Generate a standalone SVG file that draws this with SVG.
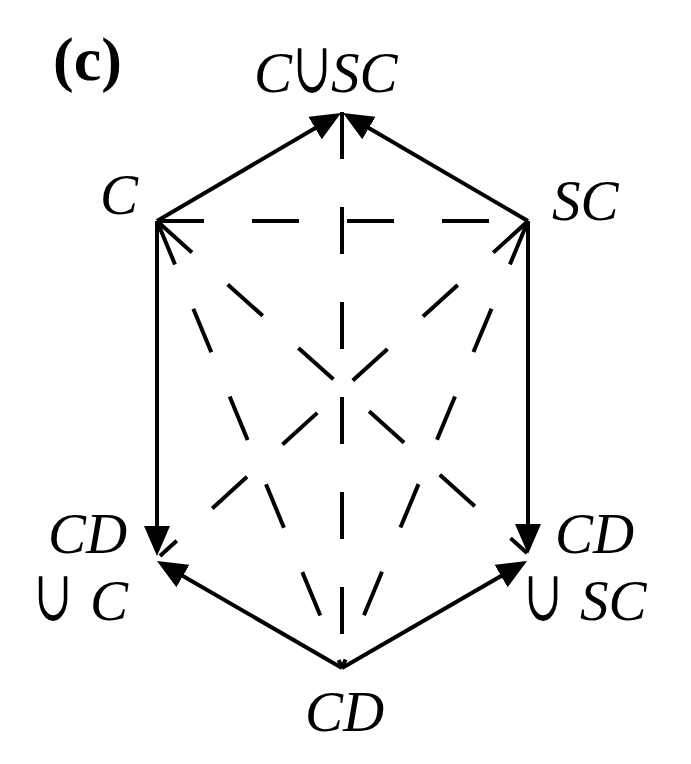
<svg xmlns="http://www.w3.org/2000/svg" width="691" height="764" viewBox="0 0 691 764">
<style>
.lbl{font-family:"Liberation Serif","Times New Roman",serif;font-style:italic;font-size:57px;fill:#000}
.cup{font-family:"DejaVu Serif","Liberation Serif",serif;font-style:normal;font-size:57px;fill:#000;text-anchor:middle}
.title{font-family:"Liberation Serif","Times New Roman",serif;font-weight:bold;font-size:62px;fill:#000}
.solid{stroke:#000;stroke-width:4;fill:none;marker-end:url(#ah)}
.dash{stroke:#000;stroke-width:4;fill:none;stroke-dasharray:47 48}
</style>
<defs>
<marker id="ah" viewBox="0 0 30 26" refX="22" refY="13" markerWidth="30" markerHeight="26" markerUnits="userSpaceOnUse" orient="auto">
<path d="M0,0 L30,13 L0,26 z" fill="#000"/>
</marker>
</defs>
<rect width="691" height="764" fill="#fff"/>
<text class="title" x="53" y="80">(c)</text>
<g id="connectors">
<line class="dash" x1="342" y1="112" x2="342" y2="668"/>
<line class="dash" x1="157" y1="221" x2="528" y2="221"/>
<line class="dash" x1="157" y1="221" x2="527" y2="553"/>
<line class="dash" x1="528" y1="221" x2="160" y2="556"/>
<line class="dash" x1="157" y1="221" x2="342" y2="668"/>
<line class="dash" x1="528" y1="221" x2="342" y2="668"/>
<line class="solid" x1="157" y1="221" x2="334.1" y2="117"/>
<line class="solid" x1="528" y1="221" x2="349.9" y2="117"/>
<line class="solid" x1="157" y1="221" x2="157" y2="548"/>
<line class="solid" x1="528" y1="221" x2="528" y2="546"/>
<line class="solid" x1="342" y1="668" x2="163.9" y2="565"/>
<line class="solid" x1="342" y1="668" x2="520.1" y2="565"/>
</g>
<g id="node-CuSC">
<text class="lbl" x="254" y="92">C</text>
<text class="cup" transform="translate(312,92) scale(0.8,1.25)">∪</text>
<text class="lbl" x="331" y="92">SC</text>
</g>
<g id="node-C"><text class="lbl" x="100" y="214">C</text></g>
<g id="node-SC"><text class="lbl" x="552" y="220">SC</text></g>
<g id="node-CDuC">
<text class="lbl" x="48" y="553">CD</text>
<text class="cup" transform="translate(53,620) scale(0.8,1.25)">∪</text>
<text class="lbl" x="90" y="620">C</text>
</g>
<g id="node-CDuSC">
<text class="lbl" x="555" y="553">CD</text>
<text class="cup" transform="translate(543,620) scale(0.8,1.25)">∪</text>
<text class="lbl" x="580" y="620">SC</text>
</g>
<g id="node-CD"><text class="lbl" x="305" y="731">CD</text></g>
</svg>
